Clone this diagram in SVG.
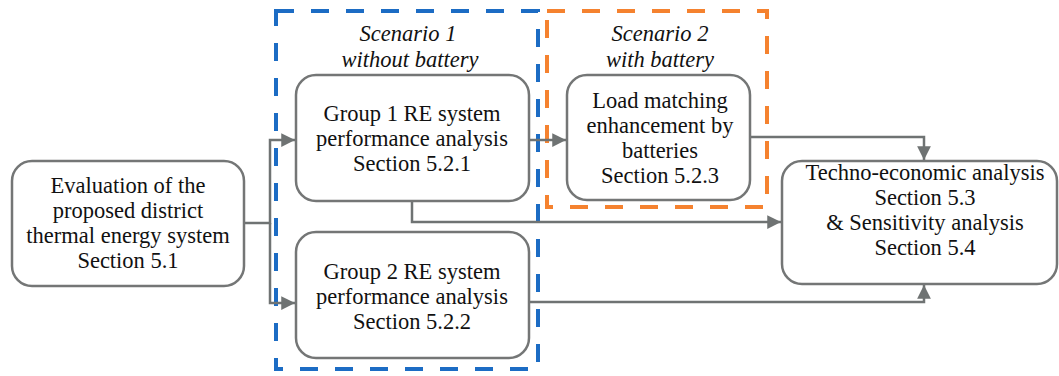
<svg xmlns="http://www.w3.org/2000/svg" width="1059" height="376" viewBox="0 0 1059 376">
<style>
.box{fill:#fff;stroke:#747676;stroke-width:2.5}
.c{fill:none;stroke:#6f7373;stroke-width:2.5}
.blue{fill:none;stroke:#1c6cc4;stroke-width:4;stroke-dasharray:18 17}
.orange{fill:none;stroke:#f5822f;stroke-width:4;stroke-dasharray:18 17}
</style>
<defs>
<marker id="ah" viewBox="0 0 10 10" refX="10" refY="5" markerWidth="5.5" markerHeight="5.5" orient="auto" markerUnits="strokeWidth">
<path d="M0,0 L10,5 L0,10 z" fill="#6f7373"/>
</marker>
</defs>
<rect width="1059" height="376" fill="#fff"/>
<g font-family="Liberation Serif" font-size="22.5" text-anchor="middle" fill="#111">
<g id="scenario1">
<rect class="blue" x="276" y="11" width="262" height="358"/>
<text font-style="italic" x="408" y="41">Scenario 1</text>
<text font-style="italic" x="410" y="67">without battery</text>
</g>
<g id="scenario2">
<rect class="orange" x="547" y="11" width="220" height="196"/>
<text font-style="italic" x="660" y="41">Scenario 2</text>
<text font-style="italic" x="660" y="67">with battery</text>
</g>
<g id="connectors">
<path class="c" d="M244,223 H270 V140 H295" marker-end="url(#ah)"/>
<path class="c" d="M270,223 V303 H295" marker-end="url(#ah)"/>
<path class="c" d="M529,140 H566" marker-end="url(#ah)"/>
<path class="c" d="M412,201 V222 H781" marker-end="url(#ah)"/>
<path class="c" d="M750,137 H924 V160" marker-end="url(#ah)"/>
<path class="c" d="M529,302 H924 V285" marker-end="url(#ah)"/>
</g>
<g id="evaluation">
<rect class="box" x="12" y="161" width="232" height="125" rx="20"/>
<text x="128" y="193">Evaluation of the</text>
<text x="128" y="218">proposed district</text>
<text x="128" y="243">thermal energy system</text>
<text x="128" y="268">Section 5.1</text>
</g>
<g id="group1">
<rect class="box" x="296" y="75" width="233" height="126" rx="20"/>
<text x="412" y="121">Group 1 RE system</text>
<text x="412" y="146">performance analysis</text>
<text x="412" y="171">Section 5.2.1</text>
</g>
<g id="group2">
<rect class="box" x="296" y="232" width="233" height="126" rx="20"/>
<text x="412" y="279">Group 2 RE system</text>
<text x="412" y="304">performance analysis</text>
<text x="412" y="329">Section 5.2.2</text>
</g>
<g id="load">
<rect class="box" x="567" y="75" width="183" height="125" rx="20"/>
<text x="660" y="108">Load matching</text>
<text x="660" y="133">enhancement by</text>
<text x="660" y="158">batteries</text>
<text x="660" y="183">Section 5.2.3</text>
</g>
<g id="techno">
<rect class="box" x="782" y="161" width="275" height="123" rx="20"/>
<text x="925" y="180">Techno-economic analysis</text>
<text x="925" y="205">Section 5.3</text>
<text x="925" y="230">&amp; Sensitivity analysis</text>
<text x="925" y="255">Section 5.4</text>
</g>
</g>
</svg>
